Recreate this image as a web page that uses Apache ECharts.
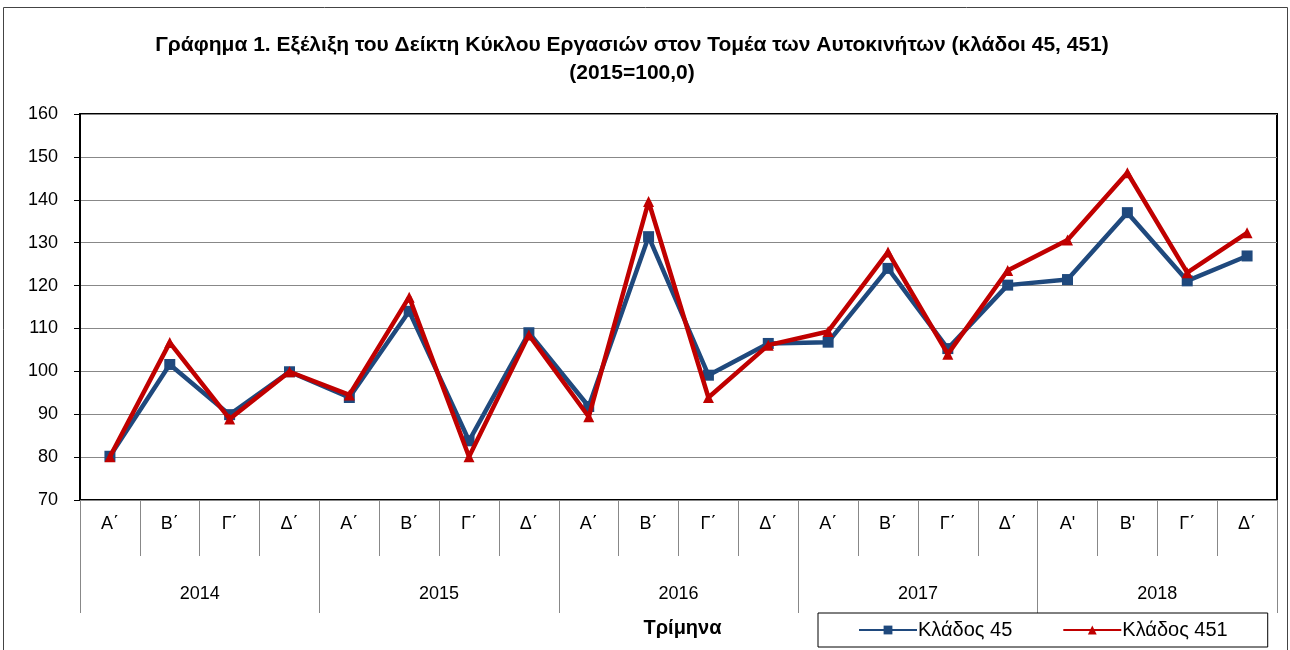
<!DOCTYPE html>
<html><head><meta charset="utf-8">
<script src="https://cdn.jsdelivr.net/npm/echarts@6/dist/echarts.min.js"></script>
<style>html,body{margin:0;padding:0;background:#fff}#c{width:1290px;height:650px}</style>
</head><body><div id="c"></div>
<script>
const quarters = ["Α΄","Β΄","Γ΄","Δ΄","Α΄","Β΄","Γ΄","Δ΄","Α΄","Β΄","Γ΄","Δ΄","Α΄","Β΄","Γ΄","Δ΄","Α'","Β'","Γ΄","Δ΄"];
const years = ["2014","2015","2016","2017","2018"];
const klados45 = [80.2,101.6,89.9,99.9,93.9,114.0,83.8,109.0,91.8,131.4,99.1,106.5,106.8,124.0,105.3,120.1,121.4,137.0,121.1,126.9];
const klados451 = [80.1,106.7,88.9,99.9,94.5,117.3,80.1,108.5,89.4,139.6,93.9,106.1,109.3,127.8,104.0,123.5,130.6,146.3,123.0,132.3];
const yTicks = {min:70,max:160,interval:10};

const FONT = "'Liberation Sans', Arial, sans-serif";
const chart = echarts.init(document.getElementById('c'), null, {renderer:'canvas'});
chart.setOption({
  backgroundColor:'#fff',
  animation:false,
  textStyle:{fontFamily:FONT},
  graphic:[{type:'rect',shape:{x:3.5,y:7.5,width:1284,height:700},style:{fill:'none',stroke:'#444',lineWidth:1},silent:true}],
  title:{
    text:'Γράφημα 1. Εξέλιξη του Δείκτη Κύκλου Εργασιών στον Τομέα των Αυτοκινήτων (κλάδοι 45, 451)\n(2015=100,0)',
    left:627, top:26, textAlign:'center',
    textStyle:{fontSize:21,fontWeight:'bold',color:'#000',lineHeight:28,fontFamily:FONT}
  },
  legend:{
    left:818, top:613,
    padding:[7,40,7,40], itemGap:50,
    borderColor:'#000', borderWidth:1,
    itemWidth:58, itemHeight:11,
    textStyle:{fontSize:20,color:'#000',fontFamily:FONT,padding:[0,0,0,-4]},
    data:['Κλάδος 45','Κλάδος 451']
  },
  grid:{left:80,top:114,width:1197,height:386,show:true,borderColor:'#000',borderWidth:2,containLabel:false},
  xAxis:[{
    type:'category', data:quarters, position:'bottom', boundaryGap:true,
    axisLine:{show:false},
    axisTick:{show:true,interval:0,length:56,lineStyle:{color:'#888',width:1}},
    axisLabel:{interval:0,margin:15,fontSize:18,color:'#000',fontFamily:FONT},
    splitLine:{show:false}
  },{
    type:'category', data:years, position:'bottom', boundaryGap:true,
    axisLine:{show:false},
    axisTick:{show:true,interval:0,length:113,lineStyle:{color:'#888',width:1}},
    axisLabel:{interval:0,margin:85,fontSize:18,color:'#000',fontFamily:FONT},
    name:'Τρίμηνα', nameLocation:'middle', nameGap:118,
    nameTextStyle:{fontSize:20,fontWeight:'bold',color:'#000',fontFamily:FONT,padding:[0,0,0,8]}
  }],
  yAxis:{
    type:'value', min:yTicks.min, max:yTicks.max, interval:yTicks.interval,
    axisLine:{show:true,lineStyle:{color:'#000',width:2}},
    axisTick:{show:true,length:6,lineStyle:{color:'#000'}},
    axisLabel:{fontSize:18,color:'#000',margin:22,fontFamily:FONT},
    splitLine:{show:true,lineStyle:{color:'#888',width:1.2}}
  },
  series:[{
    name:'Κλάδος 45', type:'line', xAxisIndex:0, data:klados45,
    symbol:'rect', symbolSize:11, showAllSymbol:true,
    lineStyle:{color:'#1F497D',width:4.5}, itemStyle:{color:'#1F497D'}, z:2
  },{
    name:'Κλάδος 451', type:'line', xAxisIndex:0, data:klados451,
    symbol:'triangle', symbolSize:11, showAllSymbol:true,
    lineStyle:{color:'#C00000',width:4.5}, itemStyle:{color:'#C00000'}, z:3
  }]
});
</script></body></html>
